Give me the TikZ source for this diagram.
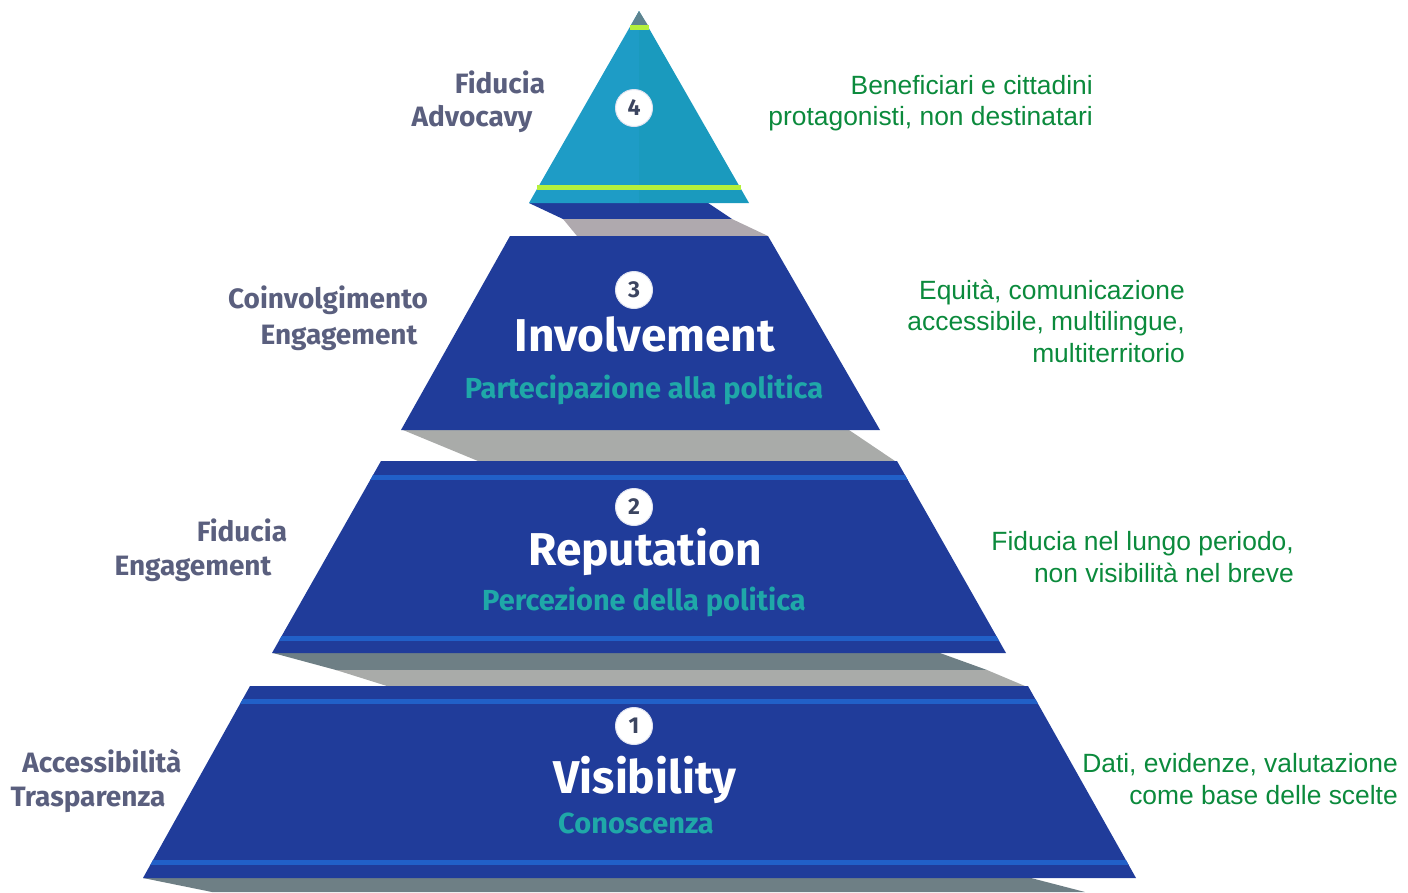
\documentclass[tikz,border=0pt]{standalone}
\usepackage{fontspec}
\setmainfont{Liberation Sans}
\newfontfamily\labelfont{Fira Sans}
\definecolor{navy}{HTML}{203C9A}
\definecolor{stripe}{HTML}{2160C8}
\definecolor{tealA}{HTML}{1E9CC6}
\definecolor{tealB}{HTML}{1A9ABE}
\definecolor{lime}{HTML}{B4F03C}
\definecolor{shadeA}{HTML}{6E7F85}
\definecolor{shadeB}{HTML}{A9ABA9}
\definecolor{shadeC}{HTML}{AFA9AE}
\definecolor{note}{HTML}{0B8A3C}
\definecolor{sidegrey}{HTML}{5A5F7E}
\definecolor{subteal}{HTML}{1FA8A8}
\definecolor{numgrey}{HTML}{3C4560}
\tikzset{
 notetext/.style={anchor=east,align=right,inner sep=0pt,text=note,font=\fontsize{26.4}{31.5}\selectfont},
 sidetext/.style={inner sep=0pt,text=sidegrey,font=\labelfont\fontsize{28}{30}\selectfont\bfseries},
 titletext/.style={inner sep=0pt,text=white,font=\labelfont\fontsize{46}{48}\selectfont\bfseries},
 subtext/.style={inner sep=0pt,text=subteal,font=\labelfont\fontsize{29}{31}\selectfont\bfseries},
 numdisc/.style={circle,fill=white,draw=white!85!navy,line width=1pt,inner sep=0pt,minimum size=37pt,text=numgrey,font=\labelfont\fontsize{23}{25}\selectfont\bfseries},
 stripeline/.style={stripe,line width=5pt},
 limeline/.style={lime,line width=5pt}
}
\begin{document}
\begin{tikzpicture}[x=1pt,y=-1pt]
\useasboundingbox (0,0) rectangle (1408,892);
% top shadow
\fill[navy] (529,203) -- (708,203) -- (732,219) -- (563,219) -- cycle;
\fill[shadeC] (563,219) -- (732,219) -- (768,236) -- (577,236) -- cycle;
% involvement shadow
\fill[shadeB] (403,430) -- (849,430) -- (895,461) -- (478,461) -- cycle;
% reputation shadow
\fill[shadeA] (273,653) -- (940,653) -- (987,670) -- (336,670) -- cycle;
\fill[shadeB] (336,670) -- (987,670) -- (1025,686) -- (387,686) -- cycle;
% visibility shadow
\fill[shadeA] (143,878) -- (1031,878) -- (1085,892) -- (212,892) -- cycle;
% top triangle
\fill[tealA] (639,11) -- (529,203) -- (639,203) -- cycle;
\fill[tealB] (639,11) -- (749,203) -- (639,203) -- cycle;
\fill[shadeA!80!tealB] (639,11) -- (630,27) -- (649,27) -- cycle;
\draw[limeline] (537,187.5) -- (741,187.5);
\draw[limeline] (630,27) -- (649,27);
% involvement
\fill[navy] (510,236) -- (768,236) -- (880,430) -- (401,430) -- cycle;
% reputation
\fill[navy] (381,461) -- (897,461) -- (1006,653) -- (272,653) -- cycle;
\begin{scope}
\clip (381,461) -- (897,461) -- (1006,653) -- (272,653) -- cycle;
\draw[stripeline] (260,477) -- (1020,477);
\draw[stripeline] (260,638) -- (1020,638);
\end{scope}
% visibility
\fill[navy] (250,686) -- (1028,686) -- (1136,878) -- (143,878) -- cycle;
\begin{scope}
\clip (250,686) -- (1028,686) -- (1136,878) -- (143,878) -- cycle;
\draw[stripeline] (130,701) -- (1150,701);
\draw[stripeline] (130,862) -- (1150,862);
\end{scope}
% discs
\node[numdisc] (n4) at (634,108) {4};
\node[numdisc] (n3) at (634,290) {3};
\node[numdisc] (n2) at (634,507) {2};
\node[numdisc] (n1) at (634,726) {1};
% titles
\node[titletext] (t3) at (645,334) {Involvement};
\node[subtext] (s3) at (644,390) {Partecipazione alla politica};
\node[titletext] (t2) at (645,552) {Reputation};
\node[subtext] (s2) at (644,602) {Percezione della politica};
\node[titletext] (t1) at (645,780) {Visibility};
\node[subtext] (s1) at (636,823) {Conoscenza};
% left labels
\node[sidetext] (l4a) at (500,82) {Fiducia};
\node[sidetext] (l4b) at (472,119) {Advocavy};
\node[sidetext] (l3a) at (328,300) {Coinvolgimento};
\node[sidetext] (l3b) at (339,338) {Engagement};
\node[sidetext] (l2a) at (242,530) {Fiducia};
\node[sidetext] (l2b) at (193,569) {Engagement};
\node[sidetext] (l1a) at (102,761) {Accessibilità};
\node[sidetext] (l1b) at (88,800) {Trasparenza};
% right notes
\node[notetext] (r4) at (1093,103) {Beneficiari e cittadini\\protagonisti, non destinatari};
\node[notetext] (r3) at (1185,321) {Equità, comunicazione\\accessibile, multilingue,\\multiterritorio};
\node[notetext] (r2) at (1294,557) {Fiducia nel lungo periodo,\\non visibilità nel breve};
\node[notetext] (r1) at (1398,779) {Dati, evidenze, valutazione\\come base delle scelte};
\end{tikzpicture}
\end{document}
